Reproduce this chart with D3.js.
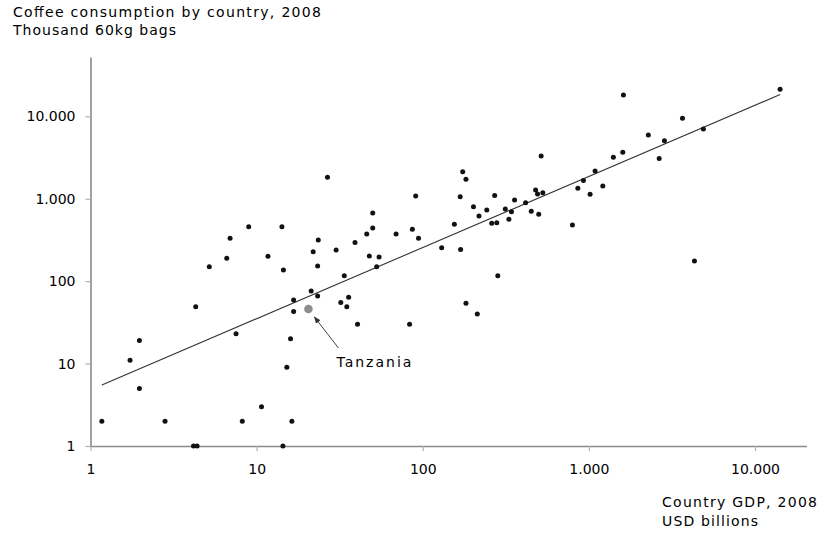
<!DOCTYPE html>
<html>
<head>
<meta charset="utf-8">
<script src="https://cdn.jsdelivr.net/npm/d3@7"></script>
<style>
  body { margin: 0; background: #fff; }
  text { font-family: "DejaVu Sans", Verdana, sans-serif; fill: #000; }
</style>
</head>
<body>
<svg id="chart" width="819" height="536"></svg>
<script>
// GDP (USD billions) and coffee consumption (thousand 60kg bags), one entry per country
const gdp = [
  1.17, 1.73, 1.97, 1.97, 2.81, 4.3, 5.19, 6.61, 7.52, 8.2,
  10.7, 11.7, 4.17, 4.38, 14.4, 16.3, 6.92, 8.96, 14.2, 14.5,
  21.9, 23.5, 30.1, 39.1, 46, 50, 50, 69.1, 86.6, 94.3,
  90.7, 47.7, 54.6, 52.8, 23.3, 33.7, 21.3, 23.3, 16.7, 16.7,
  32.1, 35.8, 34.9, 40.5, 83.3, 16, 15.2, 26.7, 130, 169,
  155, 168, 174, 182, 202, 218, 243, 271, 260, 279,
  314, 342, 330, 357, 416, 450, 499, 478, 491, 528,
  516, 182, 213, 283, 4320, 796, 858, 927, 1017, 1090,
  1213, 1404, 1600, 1614, 2280, 2650, 2850, 3660, 4890, 14160
];
const consumption = [
  2, 11, 19, 5, 2, 49, 150, 190, 23, 2,
  3, 200, 1, 1, 1, 2, 332, 458, 458, 137,
  228, 316, 239, 295, 374, 442, 673, 374, 427, 332,
  1081, 202, 197, 150, 153, 116, 76, 66, 59, 43,
  55, 64, 49, 30, 30, 20, 9, 1820, 255, 242,
  490, 1060, 2130, 1725, 802, 618, 731, 1096, 504, 513,
  752, 697, 565, 967, 897, 707, 648, 1280, 1144, 1186,
  3300, 54, 40, 116, 176, 481, 1340, 1660, 1134, 2175,
  1430, 3190, 3670, 18200, 5950, 3070, 5070, 9480, 7030, 21330
];

// highlighted country
const tanzania = { name: 'Tanzania', gdp: 20.5, consumption: 46 };

// power trend line: log10(y) = intercept + slope * log10(x)
const trendIntercept = 0.682;
const trendSlope = 0.863;

const tickValues = [1, 10, 100, 1000, 10000];

const fmt = d3.formatLocale({ decimal: ',', thousands: '.', grouping: [3], currency: ['', ''] }).format(',d');

const svg = d3.select('#chart');

const x = d3.scaleLog()
  .domain([1, Math.pow(10, 4.31)])
  .range([90.5, 806.5]);

const y = d3.scaleLog()
  .domain([1, Math.pow(10, 4.72)])
  .range([446, 57]);

// titles
svg.append('text')
  .attr('x', 13).attr('y', 17)
  .attr('font-size', 14)
  .attr('textLength', 308)
  .attr('lengthAdjust', 'spacing')
  .text('Coffee consumption by country, 2008');

svg.append('text')
  .attr('x', 13).attr('y', 35)
  .attr('font-size', 14)
  .attr('textLength', 163)
  .attr('lengthAdjust', 'spacing')
  .text('Thousand 60kg bags');

// axes
const xAxis = svg.append('g')
  .attr('transform', `translate(0, ${y(1)})`)
  .call(d3.axisBottom(x).tickValues(tickValues).tickFormat(fmt).tickSize(5).tickSizeOuter(0).tickPadding(13));

const yAxis = svg.append('g')
  .attr('transform', `translate(${x(1)}, 0)`)
  .call(d3.axisLeft(y).tickValues(tickValues).tickFormat(fmt).tickSize(5).tickSizeOuter(0).tickPadding(10));

[xAxis, yAxis].forEach(g => {
  g.select('.domain').attr('stroke', '#8a8a8a').attr('stroke-width', 1.6);
  g.selectAll('.tick line').attr('stroke', '#b0b0b0').attr('stroke-width', 1.2);
  g.selectAll('.tick text')
    .attr('font-size', 14)
    .attr('font-family', '"DejaVu Sans", Verdana, sans-serif')
    .attr('fill', '#000');
});

svg.append('text')
  .attr('x', 662).attr('y', 507)
  .attr('font-size', 14)
  .attr('textLength', 155)
  .attr('lengthAdjust', 'spacing')
  .text('Country GDP, 2008');

svg.append('text')
  .attr('x', 662).attr('y', 526)
  .attr('font-size', 14)
  .attr('textLength', 96)
  .attr('lengthAdjust', 'spacing')
  .text('USD billions');

// trend line from smallest to largest GDP
const xExt = d3.extent(gdp);
const trend = xExt.map(v => [v, Math.pow(10, trendIntercept + trendSlope * Math.log10(v))]);

svg.append('path')
  .datum(trend)
  .attr('fill', 'none')
  .attr('stroke', '#333')
  .attr('stroke-width', 1.1)
  .attr('d', d3.line().x(d => x(d[0])).y(d => y(d[1])));

// points
const points = gdp.map((g, i) => ({ gdp: g, consumption: consumption[i] }));

svg.append('g')
  .selectAll('circle')
  .data(points)
  .join('circle')
  .attr('cx', d => x(d.gdp))
  .attr('cy', d => y(d.consumption))
  .attr('r', 2.5)
  .attr('fill', '#111');

const tx = x(tanzania.gdp);
const ty = y(tanzania.consumption);

svg.append('circle')
  .attr('cx', tx)
  .attr('cy', ty)
  .attr('r', 4.3)
  .attr('fill', '#8c8c8c');

// annotation arrow
svg.append('defs').append('marker')
  .attr('id', 'head')
  .attr('viewBox', '0 0 10 10')
  .attr('refX', 9).attr('refY', 5)
  .attr('markerWidth', 7).attr('markerHeight', 7)
  .attr('orient', 'auto')
  .append('path')
  .attr('d', 'M0,1 L10,5 L0,9 Z')
  .attr('fill', '#333');

svg.append('line')
  .attr('x1', tx + 30).attr('y1', ty + 39)
  .attr('x2', tx + 6).attr('y2', ty + 8)
  .attr('stroke', '#444')
  .attr('stroke-width', 1)
  .attr('marker-end', 'url(#head)');

svg.append('text')
  .attr('x', tx + 28).attr('y', ty + 58)
  .attr('font-size', 14)
  .attr('textLength', 75)
  .attr('lengthAdjust', 'spacing')
  .text(tanzania.name);
</script>
</body>
</html>
